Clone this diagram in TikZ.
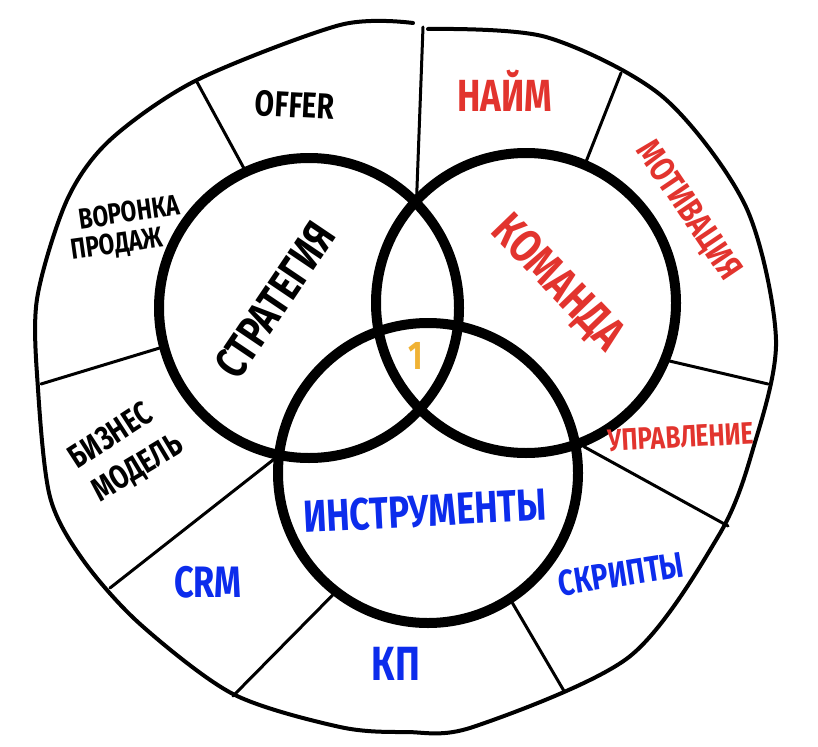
\documentclass[tikz,border=0pt]{standalone}
\usepackage{fontspec}
\setmainfont{Fira Sans}[FakeStretch=0.78]
\usetikzlibrary{calc}
\definecolor{vnred}{RGB}{226,52,46}
\definecolor{vnblue}{RGB}{12,44,236}
\definecolor{vnorange}{RGB}{240,178,52}

\begin{document}
\begin{tikzpicture}[x=1pt,y=-1pt,line cap=round,line join=round,
    venn/.style={draw,circle,minimum size=300pt,line width=10pt,inner sep=0pt},
    cut/.style={line width=3pt},
    lbl/.style={font=\bfseries\fontsize{#1}{#1}\selectfont,inner sep=0pt}]
    \useasboundingbox (0,0) rectangle (818,746);
    % outer ring, open at the top
    \draw[line width=4pt] plot[smooth] coordinates {(428,29) (546,37) (663,97) (746,207)
      (776,340) (753,449) (719,535) (629,657) (473,727) (406,732) (340,727) (233,694)
      (140,624) (83,560) (50,497) (38,389) (37,299) (67,200) (110,140) (197,80) (340,25) (413,23)};
    % the three circles
    \node[venn] (strat) at (309,308) {};
    \node[venn] (team) at (526,303) {};
    \node[venn] (tools) at (428,473) {};
    % ends of the dividers on the ring
    \coordinate (o1) at (423,27);
    \coordinate (o2) at (197,82);
    \coordinate (o3) at (41,384);
    \coordinate (o4) at (110,588);
    \coordinate (o5) at (233,696);
    \coordinate (o6) at (564,691);
    \coordinate (o7) at (728,526);
    \coordinate (o8) at (768,384);
    \coordinate (o9) at (621,73);
    \draw[cut] (o1) -- (strat.46);
    \draw[cut] (o2) -- (strat.115);
    \draw[cut] (o3) -- (strat.195);
    \draw[cut] (o4) -- (tools.175);
    \draw[cut] (o5) -- (tools.232);
    \draw[cut] (o6) -- (tools.-57);
    \draw[cut] (o7) -- (team.-68);
    \draw[cut] (o8) -- (team.-22);
    \draw[cut] (o9) -- (team.67);
    % labels
    \node[lbl=45,rotate=56] (lstrat) at (275,300) {СТРАТЕГИЯ};
    \node[lbl=47,rotate=-46,text=vnred] (lteam) at (557,284) {КОМАНДА};
    \node[lbl=45,rotate=3,text=vnblue] (ltools) at (425,511) {ИНСТРУМЕНТЫ};
    \node[lbl=40,text=vnorange] (lone) at (416,356) {1};
    \node[lbl=36,rotate=-3] (loffer) at (295,105) {OFFER};
    \node[lbl=45,text=vnred] (lhire) at (505,91) {НАЙМ};
    \node[lbl=35,rotate=-56,text=vnred] (lmotiv) at (688,211) {МОТИВАЦИЯ};
    \node[lbl=31,rotate=3,text=vnred] (lmanage) at (681,437) {УПРАВЛЕНИЕ};
    \node[lbl=36,rotate=9,text=vnblue] (lscript) at (621,574) {СКРИПТЫ};
    \node[lbl=48,text=vnblue] (lkp) at (396,664) {КП};
    \node[lbl=44,text=vnblue] (lcrm) at (208,582) {CRM};
    \node[lbl=29,rotate=8] (lfunnel) at (129,212) {ВОРОНКА};
    \node[lbl=29,rotate=8] (lsales) at (117,245) {ПРОДАЖ};
    \node[lbl=33,rotate=33] (lbiz) at (110,435) {БИЗНЕС};
    \node[lbl=33,rotate=31] (lmodel) at (138,469) {МОДЕЛЬ};
  \end{tikzpicture}
\end{document}
